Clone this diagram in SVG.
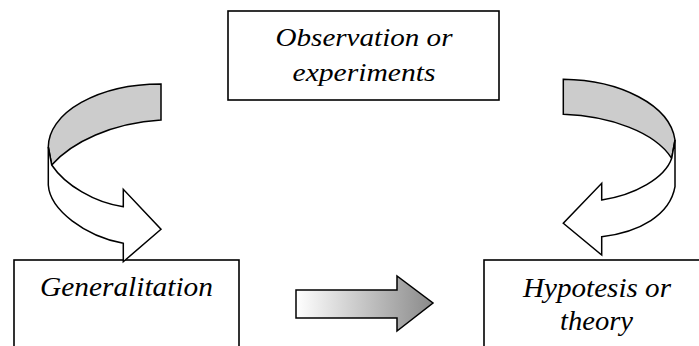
<svg xmlns="http://www.w3.org/2000/svg" width="699" height="346" viewBox="0 0 699 346">
<defs>
<linearGradient id="grad" x1="0" y1="0" x2="1" y2="0">
<stop offset="0" stop-color="#ffffff"/>
<stop offset="1" stop-color="#8a8a8a"/>
</linearGradient>
<style>
.box{fill:#ffffff;stroke:#000000;stroke-width:1.6}
.lbl{font-family:'Liberation Serif','Times New Roman',serif;font-style:italic;fill:#000000;text-anchor:middle}
.back{fill:#cccccc;stroke:#000000;stroke-width:1.5;stroke-linejoin:miter}
.front{fill:#ffffff;stroke:#000000;stroke-width:1.5;stroke-linejoin:miter}
</style>
</defs>
<rect width="699" height="346" fill="#ffffff"/>
<g id="observation">
<rect class="box" x="228" y="11" width="271" height="89"/>
<text class="lbl" x="364" y="46" font-size="26" textLength="177" lengthAdjust="spacingAndGlyphs">Observation or</text>
<text class="lbl" x="364" y="81" font-size="26" textLength="143" lengthAdjust="spacingAndGlyphs">experiments</text>
</g>
<g id="generalitation">
<rect class="box" x="14" y="260" width="225" height="100"/>
<text class="lbl" x="126.5" y="296" font-size="27" textLength="173" lengthAdjust="spacingAndGlyphs">Generalitation</text>
</g>
<g id="hypotesis">
<rect class="box" x="484" y="260" width="226" height="100"/>
<text class="lbl" x="597" y="296.5" font-size="27" textLength="148" lengthAdjust="spacingAndGlyphs">Hypotesis or</text>
<text class="lbl" x="596.5" y="330" font-size="27" textLength="73" lengthAdjust="spacingAndGlyphs">theory</text>
</g>
<g id="connectors">
<g id="curve-left">
<path class="back" d="M161,84 A112.7,63 0 0 0 48.3,147 L51.7,165 C72,142 112,123 161,120 Z"/>
<path class="front" d="M48.3,147 L48.3,185 C50,210 85,236 123.3,243.3 L123.3,261.7 L161,229.3 L123.3,189.3 L123.3,206.7 C95,203 65,185 51.7,165 Z"/>
</g>
<g id="curve-right">
<path class="back" d="M563.3,79.3 C620,80 670,105 675,140 L671.7,158.3 C655,132 610,116 563.3,114.3 Z"/>
<path class="front" d="M675,140 L675,186.7 C670,215 640,232 601.7,236.7 L601.7,255 L563.3,223.3 L601.7,183.3 L601.7,200 C635,195 665,178 671.7,158.3 Z"/>
</g>
<path id="arrow-middle" d="M296,290 L397,290 L397,276 L433,303 L397,331 L397,318 L296,318 Z" fill="url(#grad)" stroke="#000000" stroke-width="1.5"/>
</g>
</svg>
